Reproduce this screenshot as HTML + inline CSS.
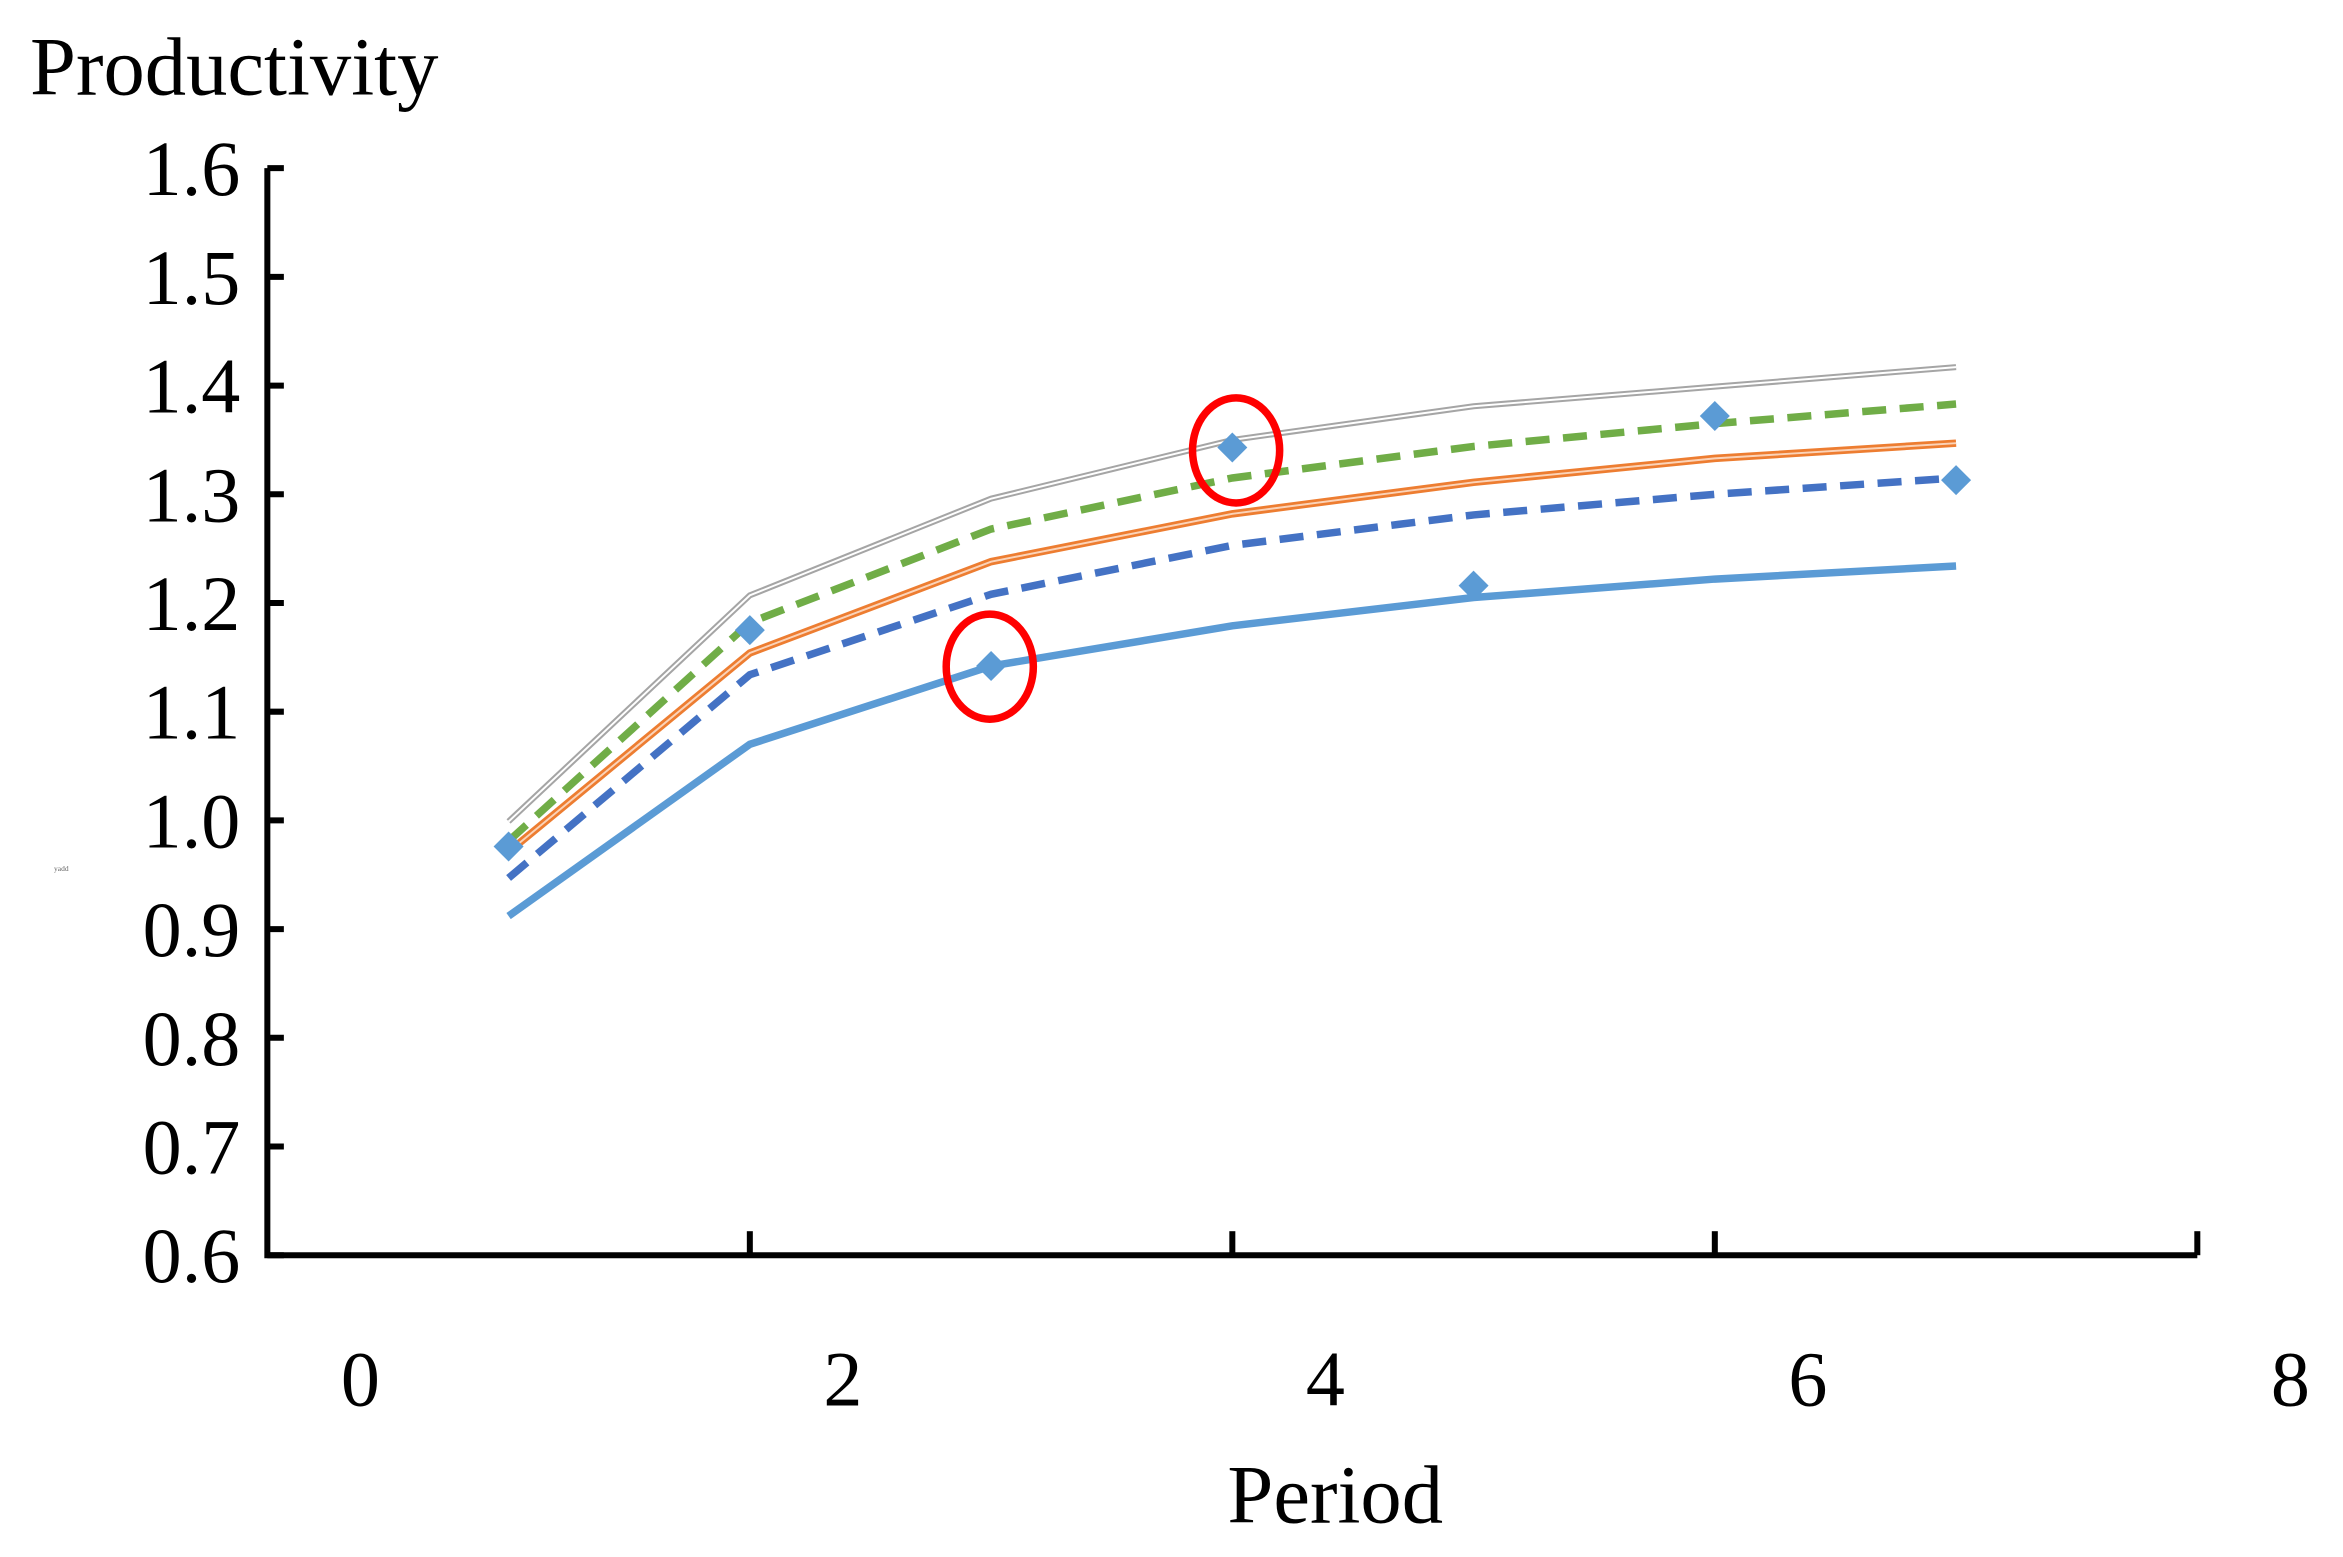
<!DOCTYPE html>
<html><head><meta charset="utf-8"><style>
html,body{margin:0;padding:0;background:#fff;}
svg{display:block;font-family:"Liberation Serif",serif;}
</style></head><body>
<svg id="chart" width="2343" height="1557" viewBox="0 0 1560 1037" preserveAspectRatio="none" xmlns="http://www.w3.org/2000/svg">
<text x="20" y="63" font-size="55">Productivity</text>
<text x="889" y="1014" font-size="55" text-anchor="middle">Period</text>
<text x="36" y="580" font-size="5" fill="#666">yadd</text>
<g id="axes"></g>
<g id="series"></g>
<ellipse cx="659" cy="444" rx="29" ry="35" fill="none" stroke="#f00" stroke-width="5"/>
<ellipse cx="823" cy="300" rx="29" ry="35" fill="none" stroke="#f00" stroke-width="5"/>
</svg>
<script>
const periods=[1,2,3,4,5,6,7];
const lightBlue=[0.912,1.070,1.142,1.179,1.205,1.222,1.234];
const darkBlueDashed=[0.947,1.134,1.208,1.253,1.281,1.300,1.315];
const orange=[0.971,1.154,1.238,1.282,1.311,1.333,1.347];
const greenDashed=[0.981,1.182,1.268,1.315,1.344,1.365,1.383];
const gray=[0.999,1.207,1.296,1.350,1.381,1.399,1.417];
const diamonds=[0.976,1.175,1.142,1.343,1.216,1.372,1.313];
const yTicks=[0.6,0.7,0.8,0.9,1.0,1.1,1.2,1.3,1.4,1.5,1.6];
const xTicks=[0,2,4,6,8];
const NS='http://www.w3.org/2000/svg';
const X0=178,X1=1463,Y0=836,Y1=112;
function sx(v){return X0+(v-0)/(8-0)*(X1-X0);}
function sy(v){return Y0-(v-0.6)/(1.6-0.6)*(Y0-Y1);}
function mk(tag,attrs,parent){const e=document.createElementNS(NS,tag);for(const k in attrs)e.setAttribute(k,attrs[k]);parent.appendChild(e);return e;}
const axes=document.getElementById('axes');
let a=mk('path',{d:`M${X0} ${Y1} V${Y0} H${X1}`,fill:'none',stroke:'#000','stroke-width':4},axes);


yTicks.forEach(t=>{
 const l=mk('line',{x1:X0,x2:X0+11,y1:sy(t),y2:sy(t),stroke:'#000','stroke-width':4},axes);
 
 
 const tx=mk('text',{x:160,y:sy(t)+18,'font-size':52,'text-anchor':'end'},axes);
 tx.textContent=t.toFixed(1);
 
 
});
xTicks.forEach(t=>{
 if(t>0){const l=mk('line',{x1:sx(t),x2:sx(t),y1:Y0,y2:Y0-16,stroke:'#000','stroke-width':4},axes);
 
 }
 const tx=mk('text',{x:sx(t)+62,y:936,'font-size':52,'text-anchor':'middle'},axes);
 tx.textContent=t;
 
 
});
const sg=document.getElementById('series');
function pts(arr){return arr.map((v,i)=>sx(periods[i])+','+sy(v)).join(' ');}
function line(arr,attrs,name){const p=mk('polyline',Object.assign({points:pts(arr),fill:'none'},attrs),sg);
 
 }
line(gray,{stroke:'#a5a5a5','stroke-width':4},'series-gray');
line(gray,{stroke:'#fff','stroke-width':1.3},'series-gray-inner');
line(greenDashed,{stroke:'#70ad47','stroke-width':5,'stroke-dasharray':'16 9'},'series-green-dashed');
line(orange,{stroke:'#ed7d31','stroke-width':5},'series-orange');
line(orange,{stroke:'#fbd3b8','stroke-width':1.3},'series-orange-inner');
line(darkBlueDashed,{stroke:'#4472c4','stroke-width':5,'stroke-dasharray':'16 9'},'series-blue-dashed');
line(lightBlue,{stroke:'#5b9bd5','stroke-width':5},'series-light-blue');
diamonds.forEach((v,i)=>{
 const x=sx(periods[i]),y=sy(v);
 const d=mk('polygon',{points:`${x},${y-10} ${x+10},${y} ${x},${y+10} ${x-10},${y}`,fill:'#5b9bd5'},sg);
 
 
});
</script>
</body></html>
